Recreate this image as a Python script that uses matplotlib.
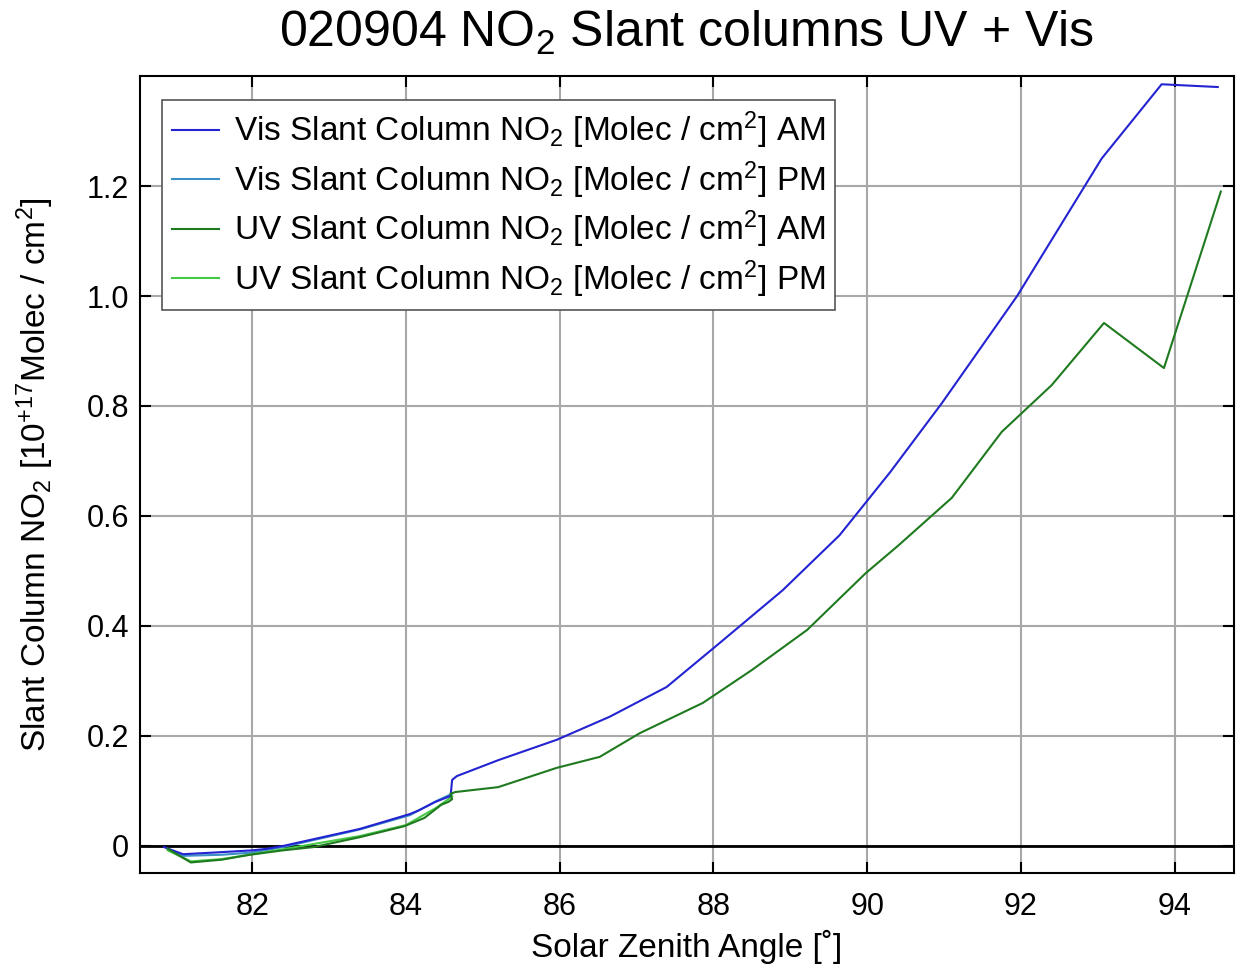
import matplotlib
matplotlib.use("Agg")
import matplotlib.pyplot as plt

plt.rcParams['font.family'] = ['Liberation Sans', 'DejaVu Sans']
plt.rcParams['mathtext.default'] = 'regular'

# Solar zenith angle [deg] and slant column NO2 [1e17 molec/cm2]
vis_am_sza = [80.85, 81.1, 81.5, 82.0, 82.2, 82.4, 83.4, 84.05, 84.17, 84.38, 84.58, 84.6, 84.66,
              85.2, 85.96, 86.65, 87.39, 88.08, 88.9, 89.64, 90.3, 90.97, 91.95, 93.05, 93.83, 94.56]
vis_am_sc = [-0.002, -0.015, -0.012, -0.008, -0.005, 0.0, 0.031, 0.058, 0.065, 0.08, 0.091, 0.12, 0.127,
             0.156, 0.193, 0.235, 0.289, 0.369, 0.465, 0.565, 0.68, 0.805, 1.0, 1.25, 1.385, 1.38]

vis_pm_sza = [80.9, 81.1, 81.6, 82.0, 82.4, 83.4, 84.05, 84.4, 84.6]
vis_pm_sc = [-0.005, -0.018, -0.016, -0.012, -0.002, 0.03, 0.056, 0.082, 0.095]

uv_am_sza = [80.9, 81.2, 81.6, 81.97, 82.4, 82.8, 83.4, 83.98, 84.24, 84.46, 84.55, 84.6, 84.58, 84.64,
             85.2, 85.96, 86.52, 87.04, 87.86, 88.5, 89.22, 89.98, 90.41, 91.1, 91.75, 92.4, 93.08,
             93.86, 94.6]
uv_am_sc = [-0.005, -0.03, -0.025, -0.016, -0.008, -0.002, 0.016, 0.036, 0.051, 0.075, 0.08, 0.085,
            0.095, 0.098, 0.107, 0.142, 0.162, 0.205, 0.26, 0.32, 0.393, 0.496, 0.547, 0.633, 0.753,
            0.838, 0.951, 0.869, 1.19]

uv_pm_sza = [80.9, 81.2, 81.6, 82.0, 82.4, 83.4, 84.0, 84.4, 84.6]
uv_pm_sc = [-0.008, -0.028, -0.024, -0.015, -0.006, 0.018, 0.038, 0.07, 0.09]

fig = plt.figure(figsize=(12.36, 9.66), dpi=100)
ax = fig.add_axes([0.1133, 0.0958, 0.885, 0.8255])

unit = '[Molec / cm$^2$]'
ax.plot(vis_am_sza, vis_am_sc, color='#2323d2', lw=1.5, zorder=4,
        label='Vis Slant Column NO$_2$ ' + unit + ' AM')
ax.plot(vis_pm_sza, vis_pm_sc, color='#3b8fc4', lw=1.5, zorder=3,
        label='Vis Slant Column NO$_2$ ' + unit + ' PM')
ax.plot(uv_am_sza, uv_am_sc, color='#1f7a1f', lw=1.5, zorder=4,
        label='UV Slant Column NO$_2$ ' + unit + ' AM')
ax.plot(uv_pm_sza, uv_pm_sc, color='#45c845', lw=1.5, zorder=3,
        label='UV Slant Column NO$_2$ ' + unit + ' PM')

ax.axhline(0, color='black', lw=2, zorder=2)

ax.set_xlim(80.54, 94.77)
ax.set_ylim(-0.05, 1.4)
ax.set_xticks([82, 84, 86, 88, 90, 92, 94])
ax.set_yticks([0, 0.2, 0.4, 0.6, 0.8, 1.0, 1.2])
ax.set_yticklabels(['0', '0.2', '0.4', '0.6', '0.8', '1.0', '1.2'])
ax.grid(True, color='#a8a8a8', lw=1.5)
ax.set_axisbelow(True)
ax.tick_params(direction='in', length=8, width=1.5, top=True, right=True, labelsize=22)
ax.tick_params(axis='x', pad=13)
ax.tick_params(axis='y', pad=8)
for s in ax.spines.values():
    s.set_linewidth(1.5)

ax.set_xlabel('Solar Zenith Angle [˚]', fontsize=24, labelpad=6)
ax.set_ylabel('Slant Column NO$_2$ [10$^{+17}$Molec / cm$^2$]', fontsize=24, labelpad=22)
ax.set_title('020904 NO$_2$ Slant columns UV + Vis', fontsize=36, pad=21)

leg = ax.legend(loc='upper left', fontsize=24, handlelength=1.4, handletextpad=0.45,
                labelspacing=0.24, borderpad=0.3,
                fancybox=False, framealpha=1, edgecolor='#555555',
                borderaxespad=0.0, bbox_to_anchor=(0.02, 0.97))
leg.get_frame().set_linewidth(1.2)

fig.savefig('out.png', dpi=100)
